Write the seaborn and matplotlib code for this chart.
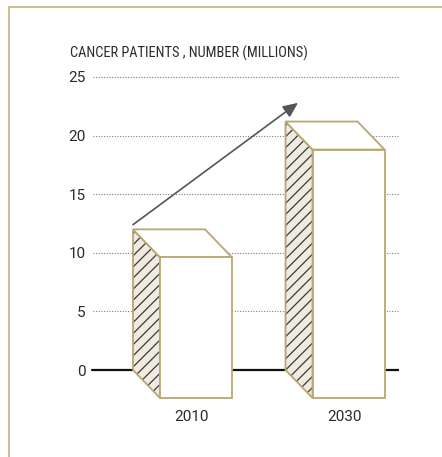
import matplotlib
matplotlib.use("Agg")
import matplotlib.pyplot as plt
from matplotlib.patches import Polygon
from matplotlib.lines import Line2D
import seaborn as sns
import pandas as pd

years = ["2010", "2030"]
patients = [12.0, 21.2]
yticks = [0, 5, 10, 15, 20, 25]
title = "CANCER PATIENTS , NUMBER (MILLIONS)"

sns.set_style("white")
plt.rcParams["font.family"] = ["Roboto", "DejaVu Sans"]
plt.rcParams["hatch.color"] = "#3a3a3a"
plt.rcParams["hatch.linewidth"] = 0.9

EDGE = "#b9a673"
SIDE = "#efebe0"
TEXT = "#2b2b2b"
LW = 1.3

YMIN, YMAX = -3.2, 25.5
PPU = 11.72
y_bot_px = 370 - YMIN * PPU
y_top_px = 370 - YMAX * PPU

fig = plt.figure(figsize=(4.42, 4.57), dpi=100)
ax = fig.add_axes([88 / 442, (457 - y_bot_px) / 457, 311 / 442, (y_bot_px - y_top_px) / 457])

df = pd.DataFrame({"year": years, "patients": patients})
sns.barplot(data=df, x="year", y="patients", ax=ax, color="white",
            width=0.472, edgecolor=EDGE, linewidth=LW, saturation=1, zorder=3)

ax.set_xlim(-0.531, 1.508)
ax.set_ylim(YMIN, YMAX)

ddx = 27 / 152.5   # depth offset in x data units
ddy = 28 / PPU     # depth offset in y data units

for p in ax.patches:
    x0, w, h = p.get_x(), p.get_width(), p.get_height()
    pts = [(x0, h), (x0 + ddx, h - ddy), (x0 + ddx, -ddy), (x0, 0)]
    ax.add_patch(Polygon(pts, closed=True, facecolor=SIDE, edgecolor="#3a3a3a",
                         hatch="///", linewidth=0, zorder=2.5))
    ax.add_patch(Polygon(pts, closed=True, fill=False, edgecolor=EDGE,
                         linewidth=LW, zorder=2.6))
    ax.add_patch(Polygon([(x0, h), (x0 + w, h), (x0 + w + ddx, h - ddy), (x0 + ddx, h - ddy)],
                         closed=True, facecolor="white", edgecolor=EDGE, linewidth=LW, zorder=2.7))
    p.set_x(x0 + ddx)
    p.set_y(-ddy)

# gridlines
for t in yticks[1:]:
    ax.plot([-0.5, 1.5], [t, t], color="#666666", linestyle=(0, (0.8, 1.6)),
            linewidth=0.8, zorder=0)
ax.plot([-0.505, 1.508], [0, 0], color="#111111", linewidth=1.6, zorder=1)

# arrow
ax.annotate("", xy=(0.846, 22.8), xytext=(-0.236, 12.4),
            arrowprops=dict(arrowstyle="-|>,head_length=0.9,head_width=0.4",
                            color="#555555", linewidth=1.2, shrinkA=0, shrinkB=0),
            zorder=4)

ax.set_yticks(yticks)
ax.set_yticklabels([str(t) for t in yticks], fontsize=11, color=TEXT)
ax.set_xticks([i + ddx * 0.85 for i in range(len(years))])
ax.set_xticklabels(years)
ax.tick_params(axis="y", length=0, pad=1.5)
ax.tick_params(axis="x", length=0, pad=1.5, labelsize=11, labelcolor=TEXT)
ax.set_xlabel("")
ax.set_ylabel("")
for s in ax.spines.values():
    s.set_visible(False)

fig.text(70 / 442, 1 - 58 / 457, title, fontsize=10.4, color=TEXT, ha="left", va="baseline",
         family=["Roboto Condensed", "Roboto", "DejaVu Sans"])

# frame
fig.add_artist(Line2D([9 / 442, 1], [1 - 7 / 457, 1 - 7 / 457], color="#cdbf99", linewidth=1.5))
fig.add_artist(Line2D([9 / 442, 9 / 442], [0, 1 - 7 / 457], color="#cdbf99", linewidth=1.5))

fig.savefig("out.png", dpi=100)
